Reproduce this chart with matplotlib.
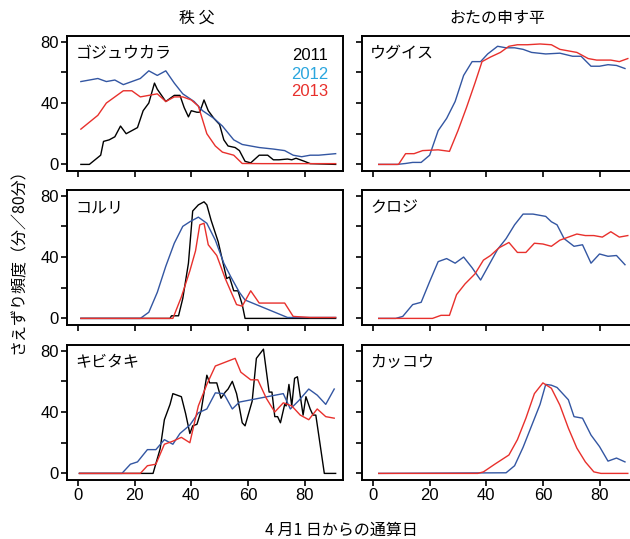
import matplotlib
matplotlib.use("Agg")
import matplotlib.pyplot as plt

plt.rcParams['font.family'] = ['Noto Sans CJK JP', 'DejaVu Sans']

# ---- data ----
# 秩父 ゴジュウカラ
goju_2011_x = [1, 4, 6, 8, 9, 11, 13, 15, 17, 19, 21, 23, 25, 27, 28, 31, 32.5, 34, 36, 37.5, 39, 40, 42, 43, 44.5, 46,
               48, 50, 51.5, 53, 55.5, 57, 59, 61, 64, 67, 69, 71, 74, 75.5, 77, 80, 82, 91]
goju_2011_y = [0, 0, 3, 6, 15, 16, 18, 25, 20, 22, 24, 35, 40, 53, 49, 41, 43, 45, 45, 37, 31, 35, 34, 34, 42, 35,
               30, 26, 16, 12, 11, 9, 2, 1, 6, 6, 3, 3, 3.5, 3, 4, 2, 0.5, 0]
goju_2012_x = [1, 7, 10, 13, 16, 22, 25, 28, 31, 34, 37, 41, 44, 48, 51, 55, 58, 64, 69, 73, 76, 79, 82, 85, 91]
goju_2012_y = [54, 56, 54, 55, 52, 56, 61, 58, 61, 53, 46, 41, 35, 30, 25, 16, 13, 11, 10, 9, 6, 5, 6, 6, 7]
goju_2013_x = [1, 7, 10, 13, 16, 19, 22, 25, 28, 31, 34, 37, 40, 42.5, 45.5, 48.5, 51, 55, 58, 65, 91]
goju_2013_y = [23, 32, 40, 44, 48, 48, 44, 45, 46, 41, 44, 44, 42, 38, 20, 12, 8, 6, 0.6, 0.5, 0.5]

# おたの申す平 ウグイス
ugui_2012_x = [2, 8.5, 11.5, 14, 17, 20, 23, 26, 29, 32, 35, 38, 40.5, 44, 47, 50, 53, 56, 61, 66, 70.5, 73.5, 77,
               80, 83, 86, 89]
ugui_2012_y = [0, 0, 0.6, 1.3, 1.3, 6, 22, 30, 41, 58, 67, 67, 72, 77, 76, 76, 75, 73, 72, 72.5, 70.5, 70.5, 64,
               64, 65, 64.5, 62.5]
ugui_2013_x = [2, 9, 11.5, 14.5, 17.5, 23, 27, 30, 33, 36, 38.5, 41.5, 45, 48, 51, 54.5, 59, 63, 66, 69, 72, 76,
               79, 84, 87, 90]
ugui_2013_y = [0, 0, 7, 7, 9, 9.5, 8.5, 22, 37, 53, 67, 70, 73, 77, 78, 78, 78.5, 78, 75, 74, 73, 69, 68, 68,
               67, 69]

# 秩父 コルリ
koru_2011_x = [1, 32.5, 33, 35.5, 37, 39, 40.5, 42.5, 44.5, 45.5, 47, 49.5, 51.5, 52.5, 53.5, 55, 56.5, 58, 59, 91]
koru_2011_y = [0, 0, 1.7, 1.7, 13, 36, 70, 74, 76, 74, 64, 50, 34, 26, 27, 18, 18, 9, 0, 0]
koru_2012_x = [1, 22, 25, 28, 31, 34, 37, 39.5, 42.5, 45.5, 48.5, 51.5, 54, 57, 59, 74, 91]
koru_2012_y = [0, 0, 4, 17, 34, 49, 60, 63, 66, 62, 51, 36, 27, 17, 12, 0.6, 0.6]
koru_2013_x = [1, 33.5, 36.5, 39.5, 41.5, 43, 44.5, 46, 49, 52, 56, 58, 61, 64, 68, 73, 76, 82, 91]
koru_2013_y = [0, 0, 14, 31, 44, 61, 62, 48, 41, 26, 9, 8, 18, 10, 10, 10, 1.3, 0.6, 0.6]

# おたの申す平 クロジ
kuro_2012_x = [2, 8, 10.5, 14, 17, 20, 23, 26, 29, 32, 35, 38, 41, 44, 47, 50, 53, 56.5, 61, 63, 65, 67.5, 71,
               74, 77, 80, 83, 86, 89]
kuro_2012_y = [0, 0, 1.3, 9, 10.5, 24, 37, 39, 36, 40, 33, 25, 35, 45, 52, 61, 68, 68, 66.5, 63, 61, 52, 47,
               48, 36, 42, 40.5, 41, 35]
kuro_2013_x = [2, 21, 24, 27, 29.5, 32.5, 36, 39, 41.5, 44.5, 48, 51, 54, 57, 60, 63, 66, 69, 72, 75, 78, 81,
               84, 87, 90]
kuro_2013_y = [0, 0, 2, 2, 15.5, 22.5, 29, 38, 41, 46, 49.5, 43, 43, 49, 48.5, 47, 51, 53, 55, 54, 54, 53,
               56.5, 53, 54]

# 秩父 キビタキ
kibi_2011_x = [0.5, 26.5, 29, 30.5, 32.5, 33.5, 35, 36.5, 38, 39.5, 40.5, 42, 43.5, 45.5, 46.5, 49, 50.5, 52,
               53, 54.5, 56, 57, 58, 59, 61.5, 63, 65.5, 67.5, 68.5, 69.5, 70.5, 71.5, 73, 73.5, 74.5, 75.5,
               76.5, 77.5, 79.5, 80.5, 82, 83, 84, 87, 91]
kibi_2011_y = [0, 0, 16, 35, 45, 52, 51, 50, 39, 26, 31, 32, 41, 64, 59, 59, 49, 53, 55, 60, 52, 43, 33, 31,
               47, 75, 81, 53, 53, 37, 37, 33, 45, 44, 58, 44, 62, 63, 38, 50, 42, 38, 38, 0, 0]
kibi_2012_x = [0.5, 15.5, 18.5, 21, 24.5, 27.5, 30.5, 33.5, 36, 39.5, 42.5, 45.5, 48.5, 51.5, 54.5, 57, 64,
               72.5, 75, 78, 81.5, 84.5, 87.5, 90.5]
kibi_2012_y = [0, 0, 6, 7.5, 15.5, 15.5, 22, 19, 26, 31.5, 39.5, 42, 52.5, 52, 42, 46.5, 49, 52, 42, 47.5,
               55, 51, 45, 55]
kibi_2013_x = [0.5, 22, 24.5, 27.5, 30.5, 33.5, 36.5, 39.5, 42.5, 45.5, 48.5, 55.5, 57.5, 61, 63.5, 66.5,
               69.5, 72.5, 75.5, 78.5, 81.5, 84.5, 87.5, 90.5]
kibi_2013_y = [0, 0, 5, 6, 19, 21, 23.5, 20, 44, 58, 70, 75, 66, 61, 61, 49, 40, 46, 44, 38, 35, 42, 37, 36]

# おたの申す平 カッコウ
kakk_2012_x = [2, 47, 50, 53, 56, 59, 61, 63, 65, 66.5, 69, 71, 74, 77, 80, 83, 86, 89]
kakk_2012_y = [0, 0.4, 5, 17, 31, 45, 58, 57.5, 56, 53, 48, 37, 36, 25, 17.5, 8, 10, 7.5]
kakk_2013_x = [2, 37, 39, 43, 48, 51, 54, 57, 60, 63, 66, 69, 72, 75, 78, 80.5, 90]
kakk_2013_y = [0, 0, 1, 6, 12, 22, 36, 52, 59, 55.5, 44.5, 29.5, 16.5, 7.5, 1, 0, 0]

years = ["2011", "2012", "2013"]
line_colors = {"2011": "black", "2012": "#3356a2", "2013": "#e8302c"}
legend_colors = {"2011": "black", "2012": "#2aa6de", "2013": "#e8302c"}
num_font = ['Liberation Sans', 'DejaVu Sans']

panels = [
    # (row, col, name, {year: (x, y)})
    (0, 0, "ゴジュウカラ", {"2011": (goju_2011_x, goju_2011_y), "2012": (goju_2012_x, goju_2012_y),
                         "2013": (goju_2013_x, goju_2013_y)}),
    (0, 1, "ウグイス", {"2012": (ugui_2012_x, ugui_2012_y), "2013": (ugui_2013_x, ugui_2013_y)}),
    (1, 0, "コルリ", {"2011": (koru_2011_x, koru_2011_y), "2012": (koru_2012_x, koru_2012_y),
                   "2013": (koru_2013_x, koru_2013_y)}),
    (1, 1, "クロジ", {"2012": (kuro_2012_x, kuro_2012_y), "2013": (kuro_2013_x, kuro_2013_y)}),
    (2, 0, "キビタキ", {"2011": (kibi_2011_x, kibi_2011_y), "2012": (kibi_2012_x, kibi_2012_y),
                    "2013": (kibi_2013_x, kibi_2013_y)}),
    (2, 1, "カッコウ", {"2012": (kakk_2012_x, kakk_2012_y), "2013": (kakk_2013_x, kakk_2013_y)}),
]

W, H = 630, 539
fig = plt.figure(figsize=(W / 100, H / 100), dpi=100)

col_left = [67, 362]
ax_w = 276
row_top = [36, 190, 345]
ax_h = 135

for row, col, name, series in panels:
    l = col_left[col] / W
    b = 1 - (row_top[row] + ax_h) / H
    ax = fig.add_axes([l, b, ax_w / W, ax_h / H])
    for yr in years:
        if yr in series:
            x, y = series[yr]
            ax.plot(x, y, color=line_colors[yr], lw=1.0)
    ax.set_xlim(-3.9, 93.6)
    ax.set_ylim(-4.3, 83.7)
    ax.set_xticks([0, 20, 40, 60, 80])
    ax.set_yticks([0, 20, 40, 60, 80])
    ax.set_yticklabels(["0", "", "40", "", "80"] if col == 0 else [])
    if row < 2:
        ax.set_xticklabels([])
    for sp in ax.spines.values():
        sp.set_linewidth(1.4)
    ax.tick_params(direction="out", length=4, width=1.2, labelsize=12, pad=2)
    for lab in ax.get_xticklabels() + ax.get_yticklabels():
        lab.set_family(num_font)
    ax.text(0.03, 0.87, name, transform=ax.transAxes, fontsize=11.5, va="center", ha="left")
    if row == 0 and col == 0:
        for yr, yy in zip(years, [0.853, 0.714, 0.59]):
            ax.text(0.946, yy, yr, transform=ax.transAxes, fontsize=12, ha="right", va="center",
                    color=legend_colors[yr], family=num_font)

fig.text(197 / W, 1 - 18 / H, "秩 父", fontsize=11.5, ha="center", va="center")
fig.text(497 / W, 1 - 18 / H, "おたの申す平", fontsize=11.5, ha="center", va="center")
fig.text(18 / W, 1 - 257 / H, "さえずり頻度（分／80分）", fontsize=11.5, rotation=90, ha="center", va="center")
fig.text(341 / W, 1 - 530 / H, "4 月1 日からの通算日", fontsize=11.5, ha="center", va="center")

fig.savefig("out.png", dpi=100)
